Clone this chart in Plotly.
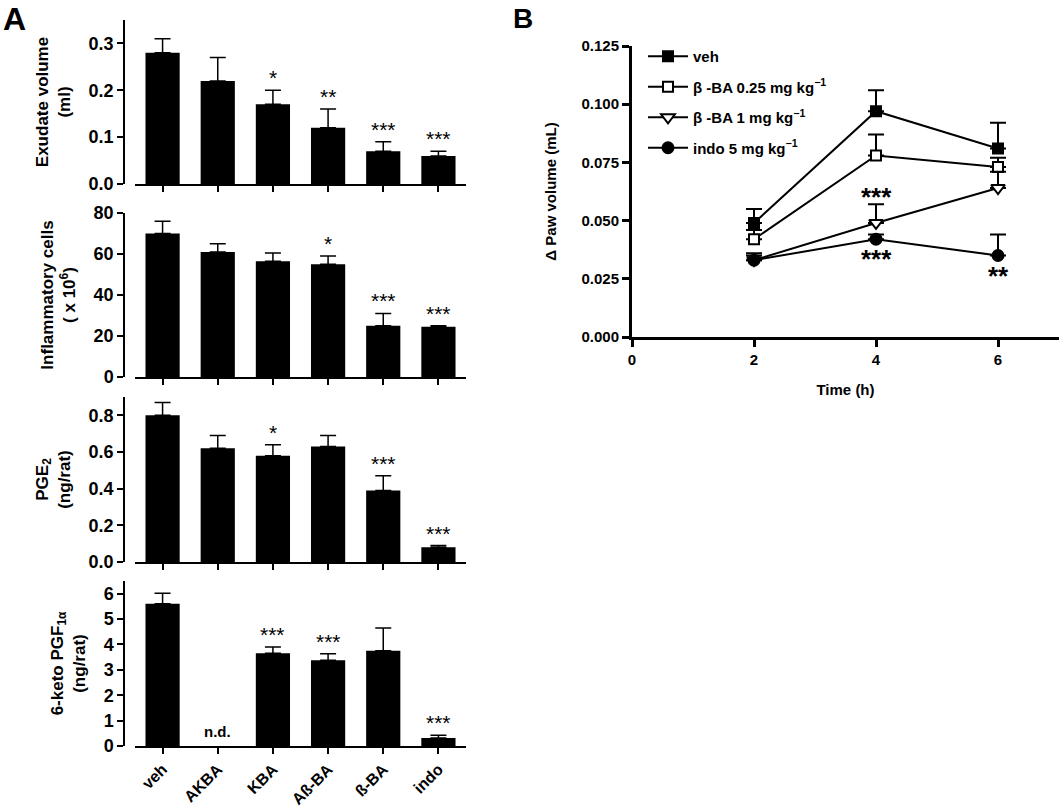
import plotly.graph_objects as go

FONT = "Liberation Sans, Arial, sans-serif"

# ---------------- Panel A data ----------------
groups = ["veh", "AKBA", "KBA", "Aß-BA", "ß-BA", "indo"]

exudate = [0.28, 0.22, 0.17, 0.12, 0.07, 0.06]
exudate_err = [0.03, 0.05, 0.03, 0.04, 0.02, 0.01]
exudate_sig = ["", "", "*", "**", "***", "***"]

cells = [70, 61, 56.5, 55, 25, 24.5]
cells_err = [6, 4, 4, 4, 6, 0.5]
cells_sig = ["", "", "", "*", "***", "***"]

pge2 = [0.80, 0.62, 0.58, 0.63, 0.39, 0.08]
pge2_err = [0.07, 0.07, 0.06, 0.06, 0.08, 0.01]
pge2_sig = ["", "", "*", "", "***", "***"]

pgf = [5.6, None, 3.65, 3.38, 3.75, 0.32]
pgf_err = [0.42, 0, 0.25, 0.25, 0.9, 0.1]
pgf_sig = ["", "", "***", "***", "", "***"]
pgf_nd = ["", "n.d.", "", "", "", ""]

# ---------------- Panel B data ----------------
time_h = [2, 4, 6]
veh = [0.049, 0.097, 0.081]
veh_err = [0.006, 0.009, 0.011]
ba025 = [0.042, 0.078, 0.073]
ba025_err = [0.004, 0.009, 0.004]
ba1 = [0.033, 0.049, 0.064]
ba1_err = [0.003, 0.008, 0.007]
indo = [0.033, 0.042, 0.035]
indo_err = [0.002, 0.002, 0.009]
ba1_sig = ["", "***", ""]
indo_sig = ["", "***", "**"]

W, H = 1063, 810
fig = go.Figure()

def px_x(p):
    return p / W

def px_y(p):
    return 1 - p / H

panels = [
    (exudate, exudate_err, exudate_sig, "Exudate volume<br>(ml)", [0, 0.35], 0.1, ".1f", (20, 184)),
    (cells, cells_err, cells_sig, "Inflammatory cells<br>( x 10<sup>6</sup>)", [0, 80], 20, "d", (213, 377)),
    (pge2, pge2_err, pge2_sig, "PGE<sub>2</sub><br>(ng/rat)", [0, 0.9], 0.2, ".1f", (397, 562)),
    (pgf, pgf_err, pgf_sig, "6-keto PGF<sub>1α</sub><br>(ng/rat)", [0, 6.5], 1, "d", (581, 746)),
]

layout_axes = {}
annotations = []
for i, (vals, errs, sigs, title, yr, dt, fmt, (ytop, ybot)) in enumerate(panels, start=1):
    xa = "x" if i == 1 else f"x{i}"
    ya = "y" if i == 1 else f"y{i}"
    fig.add_trace(go.Bar(
        x=groups, y=vals, xaxis=xa, yaxis=ya, width=0.62,
        marker=dict(color="black", line=dict(width=0)),
        error_y=dict(type="data", symmetric=False, array=errs,
                     arrayminus=[0] * len(errs), color="black",
                     thickness=1.5, width=8),
        showlegend=False,
    ))
    xkey = "xaxis" if i == 1 else f"xaxis{i}"
    ykey = "yaxis" if i == 1 else f"yaxis{i}"
    layout_axes[xkey] = dict(
        domain=[px_x(135), px_x(466)], anchor=ya, range=[-0.5, 5.5],
        type="category", showline=True, linecolor="black", linewidth=1.5,
        ticks="outside", ticklen=6, tickwidth=1.5, tickcolor="black",
        showticklabels=(i == 4), tickangle=-45, automargin=False,
        tickfont=dict(family=FONT, size=16, color="black", weight="bold"),
        showgrid=False, zeroline=False, fixedrange=True,
    )
    layout_axes[ykey] = dict(
        domain=[px_y(ybot), px_y(ytop)], anchor="free", position=px_x(124),
        range=yr, dtick=dt, tick0=0, tickformat=fmt, automargin=False,
        showline=True, linecolor="black", linewidth=1.5,
        ticks="outside", ticklen=6, tickwidth=1.5, tickcolor="black",
        tickfont=dict(family=FONT, size=18, color="black", weight="bold"),
        title=dict(text=title, standoff=13,
                   font=dict(family=FONT, size=17, color="black", weight="bold")),
        showgrid=False, zeroline=False, fixedrange=True,
    )
    for g, v, e, s in zip(groups, vals, errs, sigs):
        if s and v is not None:
            annotations.append(dict(
                x=g, y=v + e, xref=xa, yref=ya, text=s, showarrow=False,
                yanchor="bottom", yshift=-1,
                font=dict(family=FONT, size=21, color="black"),
            ))

for g, s in zip(groups, pgf_nd):
    if s:
        annotations.append(dict(
            x=g, y=0, xref="x4", yref="y4", text=s, showarrow=False,
            yanchor="bottom", yshift=4,
            font=dict(family=FONT, size=15, color="black", weight="bold"),
        ))

# ---------------- Panel B ----------------
series_b = [
    ("veh", veh, veh_err, dict(symbol="square", color="black", size=10,
                                line=dict(color="black", width=2))),
    ("β -BA 0.25 mg kg<sup>−1</sup>", ba025, ba025_err,
     dict(symbol="square", color="white", size=10, line=dict(color="black", width=2))),
    ("β -BA 1 mg kg<sup>−1</sup>", ba1, ba1_err,
     dict(symbol="triangle-down", color="white", size=12, line=dict(color="black", width=2))),
    ("indo 5 mg kg<sup>−1</sup>", indo, indo_err,
     dict(symbol="circle", color="black", size=11, line=dict(color="black", width=2))),
]
for k, (name, vals, errs, mk) in enumerate(series_b):
    fig.add_trace(go.Scatter(
        x=time_h, y=vals, name=name, mode="lines+markers", xaxis="x5", yaxis="y5",
        line=dict(color="black", width=2), marker=mk, legendgroup=f"g{k}",
        error_y=dict(type="data", symmetric=False, array=errs,
                     arrayminus=[0] * len(errs), color="black", thickness=2, width=8),
    ))

layout_axes["xaxis5"] = dict(
    domain=[px_x(632), px_x(1059)], anchor="y5", range=[0, 7], dtick=2, tick0=0,
    showline=True, linecolor="black", linewidth=3, automargin=False,
    ticks="outside", ticklen=7, tickwidth=3, tickcolor="black",
    tickfont=dict(family=FONT, size=15, color="black", weight="bold"),
    title=dict(text="Time (h)", standoff=18,
               font=dict(family=FONT, size=15, color="black", weight="bold")),
    showgrid=False, zeroline=False, fixedrange=True,
)
layout_axes["yaxis5"] = dict(
    domain=[px_y(337), px_y(46)], anchor="x5", range=[0, 0.125], dtick=0.025, tick0=0,
    tickformat=".3f", automargin=False,
    showline=True, linecolor="black", linewidth=3,
    ticks="outside", ticklen=7, tickwidth=3, tickcolor="black",
    tickfont=dict(family=FONT, size=15, color="black", weight="bold"),
    title=dict(text="Δ Paw volume (mL)", standoff=22,
               font=dict(family=FONT, size=15, color="black", weight="bold")),
    showgrid=False, zeroline=False, fixedrange=True,
)

for t, v, e, s in zip(time_h, ba1, ba1_err, ba1_sig):
    if s:
        annotations.append(dict(
            x=t, y=v + e, xref="x5", yref="y5", text=s, showarrow=False,
            yanchor="bottom", yshift=-10,
            font=dict(family=FONT, size=26, color="black", weight="bold"),
        ))
for t, v, s in zip(time_h, indo, indo_sig):
    if s:
        annotations.append(dict(
            x=t, y=v, xref="x5", yref="y5", text=s, showarrow=False,
            yanchor="top", yshift=-3,
            font=dict(family=FONT, size=26, color="black", weight="bold"),
        ))

# Panel letters
annotations.append(dict(x=px_x(1), y=px_y(-1), xref="paper", yref="paper", text="A",
                        showarrow=False, xanchor="left", yanchor="top",
                        font=dict(family=FONT, size=32, color="black", weight="bold")))
annotations.append(dict(x=px_x(511), y=px_y(1), xref="paper", yref="paper", text="B",
                        showarrow=False, xanchor="left", yanchor="top",
                        font=dict(family=FONT, size=28, color="black", weight="bold")))

fig.update_layout(
    width=W, height=H, margin=dict(l=0, r=0, t=0, b=0),
    paper_bgcolor="white", plot_bgcolor="white",
    font=dict(family=FONT, color="black"),
    showlegend=True,
    legend=dict(x=px_x(643), y=px_y(40), xanchor="left", yanchor="top",
                bgcolor="rgba(0,0,0,0)", tracegroupgap=8, itemwidth=40,
                font=dict(family=FONT, size=15, color="black", weight="bold")),
    annotations=annotations,
    **layout_axes,
)

fig.write_html(
    "out.html",
    config={"displayModeBar": False},
    post_script="document.body.style.margin='0px';document.body.style.overflow='hidden';",
)
